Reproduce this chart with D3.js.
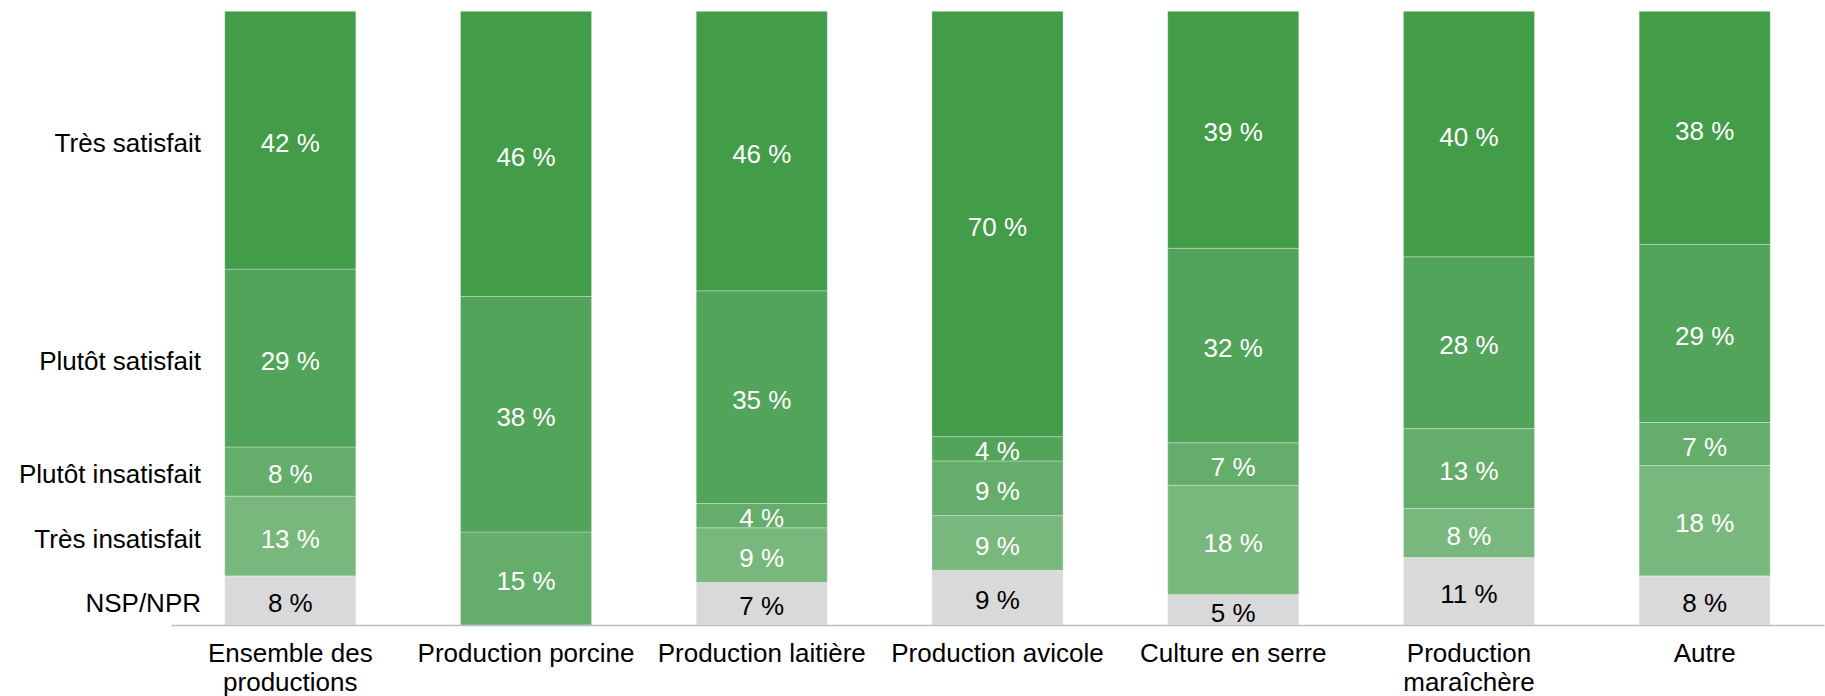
<!DOCTYPE html>
<html>
<head>
<meta charset="utf-8">
<script src="https://cdn.jsdelivr.net/npm/d3@7"></script>
<style>
  body { margin: 0; background: #fff; }
  svg text { font-family: "Liberation Sans", Arial, sans-serif; }
</style>
</head>
<body>
<div id="chart"></div>
<script>
// categories (x axis)
var categories = ["Ensemble des productions", "Production porcine", "Production laitière",
  "Production avicole", "Culture en serre", "Production maraîchère", "Autre"];
// how each category label is split on lines
var tickLines = [["Ensemble des", "productions"], ["Production porcine"], ["Production laitière"],
  ["Production avicole"], ["Culture en serre"], ["Production", "maraîchère"], ["Autre"]];

// series, bottom to top
var seriesNames = ["NSP/NPR", "Très insatisfait", "Plutôt insatisfait", "Plutôt satisfait", "Très satisfait"];
var nspNpr            = [8, 0, 7, 9, 5, 11, 8];
var tresInsatisfait   = [13, 0, 9, 9, 18, 8, 18];
var plutotInsatisfait = [8, 15, 4, 9, 7, 13, 7];
var plutotSatisfait   = [29, 38, 35, 4, 32, 28, 29];
var tresSatisfait     = [42, 46, 46, 70, 39, 40, 38];

var colors = ["#d9d9d9", "#79b87c", "#64ad6b", "#52a45a", "#439c48"];

var width = 1825, height = 696;
var margin = { top: 11.3, right: 1, bottom: 71, left: 171 };

var table = categories.map(function (c, i) {
  return {
    cat: c,
    "NSP/NPR": nspNpr[i],
    "Très insatisfait": tresInsatisfait[i],
    "Plutôt insatisfait": plutotInsatisfait[i],
    "Plutôt satisfait": plutotSatisfait[i],
    "Très satisfait": tresSatisfait[i]
  };
});

// bars are all shown full height, so normalise each column
var stacked = d3.stack()
  .keys(seriesNames)
  .offset(d3.stackOffsetExpand)(table);

var x = d3.scaleBand()
  .domain(categories)
  .range([margin.left, width - margin.right])
  .paddingInner(0.444)
  .paddingOuter(0.228);

var y = d3.scaleLinear()
  .domain([0, 1])
  .range([height - margin.bottom, margin.top]);

var svg = d3.select("#chart")
  .append("svg")
  .attr("width", width)
  .attr("height", height);

var layer = svg.selectAll("g.layer")
  .data(stacked)
  .enter()
  .append("g")
  .attr("class", "layer")
  .attr("fill", function (d, i) { return colors[i]; });

layer.selectAll("rect")
  .data(function (d) { return d; })
  .enter()
  .append("rect")
  .attr("x", function (d) { return x(d.data.cat); })
  .attr("y", function (d) { return y(d[1]); })
  .attr("width", x.bandwidth())
  .attr("height", function (d) { return Math.max(0, y(d[0]) - y(d[1])); })
  .attr("stroke", "#ffffff")
  .attr("stroke-opacity", 0.3)
  .attr("stroke-width", 1);

// value labels
stacked.forEach(function (s, si) {
  svg.append("g")
    .selectAll("text")
    .data(s.filter(function (d) { return d.data[s.key] > 0; }))
    .enter()
    .append("text")
    .attr("x", function (d) { return x(d.data.cat) + x.bandwidth() / 2; })
    .attr("y", function (d) { return (y(d[0]) + y(d[1])) / 2; })
    .attr("dy", "0.45em")
    .attr("text-anchor", "middle")
    .style("font-size", "26px")
    .style("fill", si === 0 ? "#000" : "#fff")
    .text(function (d) { return d.data[s.key] + " %"; });
});

// series names on the left, beside the first bar
svg.append("g")
  .selectAll("text")
  .data(stacked)
  .enter()
  .append("text")
  .attr("x", 201)
  .attr("y", function (s) { return (y(s[0][0]) + y(s[0][1])) / 2; })
  .attr("dy", "0.45em")
  .attr("text-anchor", "end")
  .style("font-size", "26px")
  .style("fill", "#000")
  .text(function (s) { return s.key; });

// x axis
var xAxis = svg.append("g")
  .attr("transform", "translate(0," + (height - margin.bottom) + ")")
  .call(d3.axisBottom(x).tickSize(0).tickSizeOuter(0));

xAxis.select(".domain")
  .attr("stroke", "#bfbfbf")
  .attr("stroke-width", 1.6);

xAxis.selectAll(".tick text").each(function (d, i) {
  var t = d3.select(this);
  t.text(null)
    .attr("y", 37)
    .attr("dy", null)
    .style("font-size", "26px")
    .style("font-family", '"Liberation Sans", Arial, sans-serif')
    .attr("fill", "#000");
  tickLines[i].forEach(function (line, k) {
    t.append("tspan")
      .attr("x", 0)
      .attr("y", 37 + k * 28.5)
      .text(line);
  });
});
</script>
</body>
</html>
